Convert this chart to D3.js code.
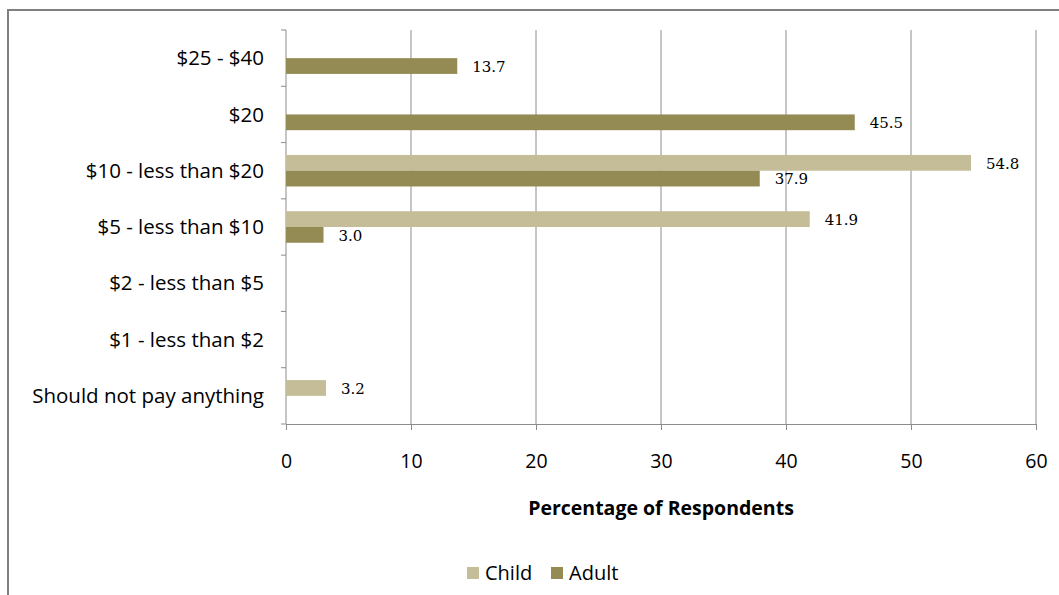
<!DOCTYPE html>
<html>
<head>
<meta charset="utf-8">
<script src="https://cdn.jsdelivr.net/npm/d3@7"></script>
<style>
  html, body { margin: 0; padding: 0; background: #fff; }
  svg { display: block; }
</style>
</head>
<body>
<div id="chart"></div>
<script>
// categorias de arriba hacia abajo
const categorias = [
  "$25 - $40",
  "$20",
  "$10 - less than $20",
  "$5 - less than $10",
  "$2 - less than $5",
  "$1 - less than $2",
  "Should not pay anything"
];
const series = ["Child", "Adult"];
const valoresChild = [null, null, 54.8, 41.9, null, null, 3.2];
const valoresAdult = [13.7, 45.5, 37.9, 3.0, null, null, null];
const ticksX = [0, 10, 20, 30, 40, 50, 60];

const colores = { Child: "#c4bd97", Adult: "#948a54" };
const colorGrid = "#8c8c8c";
const fuente = "'Open Sans', sans-serif";

const width = 1059, height = 595;
const padding = { top: 30, right: 23, bottom: 171, left: 286 };
const innerWidth = width - padding.left - padding.right;
const innerHeight = height - padding.top - padding.bottom;

const svg = d3.select("#chart").append("svg")
  .attr("width", width)
  .attr("height", height);

// marco exterior (solo bordes visibles)
svg.append("path")
  .attr("d", `M8,${height} V10 H${width}`)
  .attr("fill", "none")
  .attr("stroke", "#808080")
  .attr("stroke-width", 2);

const g = svg.append("g").attr("transform", `translate(${padding.left},${padding.top})`);

const x = d3.scaleLinear().domain([0, 60]).range([0, innerWidth]);
const y = d3.scaleBand().domain(categorias).range([0, innerHeight])
  .paddingInner(0.44).paddingOuter(0.22);
const ySub = d3.scaleBand().domain(series).range([0, y.bandwidth()]);

// grid vertical
g.append("g")
  .selectAll("line")
  .data(ticksX.slice(1))
  .join("line")
  .attr("x1", d => x(d)).attr("x2", d => x(d))
  .attr("y1", 0).attr("y2", innerHeight)
  .attr("stroke", colorGrid)
  .attr("stroke-width", 1);

// eje x
const ejeX = g.append("g")
  .attr("transform", `translate(0,${innerHeight})`)
  .call(d3.axisBottom(x).tickValues(ticksX).tickSize(6).tickPadding(24));
ejeX.select(".domain").attr("stroke", colorGrid);
ejeX.selectAll(".tick line").attr("stroke", colorGrid);
ejeX.selectAll("text")
  .attr("fill", "#000")
  .attr("font-size", 19.5)
  .attr("font-family", fuente);

// eje y (ticks entre categorias)
const step = y.step();
const yTicks = d3.range(categorias.length + 1).map(i => y(categorias[0]) - y.paddingInner() * step / 2 + i * step);
g.append("line")
  .attr("x1", 0).attr("x2", 0)
  .attr("y1", 0).attr("y2", innerHeight)
  .attr("stroke", colorGrid);
g.append("g")
  .selectAll("line")
  .data(yTicks)
  .join("line")
  .attr("x1", -5).attr("x2", 0)
  .attr("y1", d => d).attr("y2", d => d)
  .attr("stroke", colorGrid);

g.append("g")
  .selectAll("text")
  .data(categorias)
  .join("text")
  .attr("x", -22)
  .attr("y", d => y(d) + y.bandwidth() / 2)
  .attr("dy", "0.35em")
  .attr("text-anchor", "end")
  .attr("font-size", 20.5)
  .attr("font-family", fuente)
  .attr("fill", "#000")
  .text(d => d);

// barras
const datos = [];
categorias.forEach((c, i) => {
  if (valoresChild[i] != null) datos.push({ cat: c, serie: "Child", valor: valoresChild[i] });
  if (valoresAdult[i] != null) datos.push({ cat: c, serie: "Adult", valor: valoresAdult[i] });
});

g.append("g")
  .selectAll("rect")
  .data(datos)
  .join("rect")
  .attr("x", 0)
  .attr("y", d => y(d.cat) + ySub(d.serie))
  .attr("width", d => x(d.valor))
  .attr("height", ySub.bandwidth())
  .attr("fill", d => colores[d.serie]);

g.append("g")
  .selectAll("text")
  .data(datos)
  .join("text")
  .attr("x", d => x(d.valor) + 15)
  .attr("y", d => y(d.cat) + ySub(d.serie) + ySub.bandwidth() / 2)
  .attr("dy", "0.38em")
  .attr("font-size", 15)
  .attr("font-family", "'DejaVu Serif', serif")
  .attr("fill", "#000")
  .text(d => d3.format(".1f")(d.valor));

// titulo eje x
svg.append("text")
  .attr("x", padding.left + innerWidth / 2)
  .attr("y", 515)
  .attr("text-anchor", "middle")
  .attr("font-size", 19.5)
  .attr("font-weight", "bold")
  .attr("font-family", fuente)
  .attr("fill", "#000")
  .text("Percentage of Respondents");

// leyenda
const leyenda = svg.append("g").attr("transform", "translate(467,567)");
const itemX = [0, 84];
series.forEach((s, i) => {
  const it = leyenda.append("g").attr("transform", `translate(${itemX[i]},0)`);
  it.append("rect").attr("width", 12).attr("height", 12).attr("fill", colores[s]);
  it.append("text")
    .attr("x", 18).attr("y", 6).attr("dy", "0.35em")
    .attr("font-size", 20)
    .attr("font-family", fuente)
    .attr("fill", "#000")
    .text(s);
});
</script>
</body>
</html>
